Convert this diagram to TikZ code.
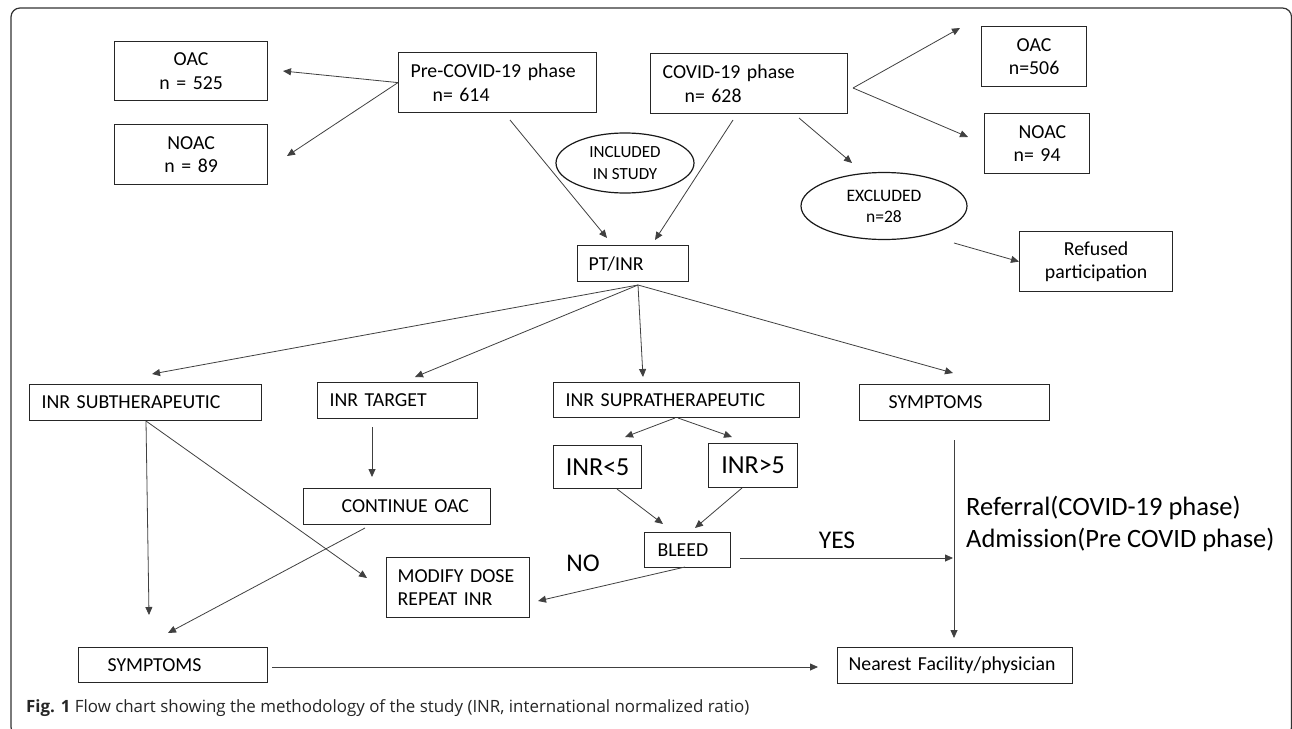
\documentclass[tikz,border=0pt]{standalone}
\usepackage{fontspec}
\setmainfont{Carlito}
\newfontfamily\capfont{Open Sans}
\usetikzlibrary{arrows.meta,shapes.geometric,calc}
\begin{document}
\begin{tikzpicture}[x=1pt,y=-1pt,
  box/.style={draw=black!85, line width=1.2pt, inner xsep=0pt, inner ysep=0pt,
    anchor=north west, align=left, font=\fontsize{19.8}{23.5}\selectfont},
  cbox/.style={box, align=center},
  oval/.style={draw=black!90, line width=1.2pt, ellipse, inner sep=0pt, align=center},
  arr/.style={draw=black!75, line width=0.8pt, -{Triangle[length=8pt,width=7pt]}},
  big/.style={font=\fontsize{25.5}{31}\selectfont, inner sep=0pt}
]
\useasboundingbox (0,0) rectangle (1292,728);
\fill[white] (0,0) rectangle (1292,728);
\draw[line width=1.2pt, black!80, rounded corners=9pt] (11,8) rectangle (1291.5,736);

% boxes
\node[box, text width=198pt, minimum height=60pt] (pre) at (398,52) {\hspace*{12pt}Pre-COVID-19 phase\\\hspace*{34pt}n= 614};
\node[box, text width=197pt, minimum height=60pt] (covid) at (650,53) {\hspace*{12pt}COVID-19 phase\\\hspace*{34pt}n= 628};
\node[cbox, text width=153pt, minimum height=59pt] (oacL) at (114,41) {OAC\\n = 525};
\node[cbox, text width=153pt, minimum height=60pt] (noacL) at (114,124) {NOAC\\n = 89};
\node[cbox, text width=105pt, minimum height=60pt] (oacR) at (981,26) {OAC\\n=506};
\node[box, text width=105pt, minimum height=60pt] (noacR) at (984,113) {\hspace*{34pt}NOAC\\\hspace*{29pt}n= 94};
\node[box, text width=111pt, minimum height=36pt] (ptinr) at (577,245) {\hspace*{11pt}PT/INR};
\node[cbox, text width=153pt, minimum height=60pt] (refused) at (1019,231) {Refused\\participation};
\node[box, text width=232pt, minimum height=36pt] (inrsub) at (29,384) {\hspace*{12pt}INR SUBTHERAPEUTIC};
\node[box, text width=160pt, minimum height=36pt] (inrtgt) at (317,382) {\hspace*{12pt}INR TARGET};
\node[box, text width=246pt, minimum height=35pt] (inrsup) at (553,382) {\hspace*{12pt}INR SUPRATHERAPEUTIC};
\node[box, text width=190pt, minimum height=36pt] (sympR) at (859,384) {\hspace*{29pt}SYMPTOMS};
\node[cbox, text width=88pt, minimum height=43pt, font=\fontsize{26}{30}\selectfont] (inrlt) at (553,445) {INR<5};
\node[cbox, text width=89pt, minimum height=44pt, font=\fontsize{26}{30}\selectfont] (inrgt) at (708,443) {INR>5};
\node[box, text width=187pt, minimum height=36pt] (cont) at (303,488) {\hspace*{38pt}CONTINUE OAC};
\node[box, text width=86pt, minimum height=35pt] (bleed) at (644,532) {\hspace*{13pt}BLEED};
\node[box, text width=143pt, minimum height=60pt] (modify) at (386,557) {\hspace*{11pt}MODIFY DOSE\\\hspace*{11pt}REPEAT INR};
\node[box, text width=189pt, minimum height=35pt] (sympL) at (78,647) {\hspace*{29pt}SYMPTOMS};
\node[box, text width=235pt, minimum height=36pt] (nearest) at (837,647) {\hspace*{11pt}Nearest Facility/physician};

% ellipses
\node[oval, minimum width=138pt, minimum height=60pt, font=\fontsize{17}{22}\selectfont] (incl) at (625,163) {INCLUDED\\IN STUDY};
\node[oval, minimum width=166pt, minimum height=67pt, font=\fontsize{17.5}{21}\selectfont] (excl) at (884,206) {EXCLUDED\\n=28};

% free labels
\node[big] (yes) at (837,540) {YES};
\node[big] (no) at (583,563) {NO};
\node[anchor=west, align=left, inner sep=0pt, font=\fontsize{26.5}{32}\selectfont] (referral) at (966,524) {Referral(COVID-19 phase)\\Admission(Pre COVID phase)};
\node[anchor=west, inner sep=0pt, font=\capfont\fontsize{16.9}{20}\selectfont, text=black!85] (caption) at (26,708) {\textbf{Fig. 1} Flow chart showing the methodology of the study (INR, international normalized ratio)};

% coordinates
\coordinate (c1) at (283,71);
\coordinate (c2) at (287,156);
\coordinate (cs3) at (853,88);
\coordinate (c3) at (960,28);
\coordinate (c4) at (968,137);
\coordinate (cs5) at (510,120);
\coordinate (c5) at (607,238);
\coordinate (cs6) at (733,120);
\coordinate (c6) at (655,240);
\coordinate (cs7) at (799,118);
\coordinate (c7) at (852,163);
\coordinate (cs8) at (954,243);
\coordinate (fan) at (638,285);
\coordinate (c9a) at (152,374);
\coordinate (c9b) at (415,377);
\coordinate (c9c) at (643,377);
\coordinate (c9d) at (953,373);
\coordinate (cs10a) at (675,418);
\coordinate (c10a) at (625,437);
\coordinate (cs10b) at (678,418);
\coordinate (c10b) at (732,437);
\coordinate (cs11a) at (617,489);
\coordinate (c11a) at (663,524);
\coordinate (cs11b) at (742,488);
\coordinate (c11b) at (695,528);
\coordinate (cs12) at (685,567);
\coordinate (c12) at (538,601);
\coordinate (cs13) at (740,558);
\coordinate (c13) at (953,558);
\coordinate (cs14) at (372,427);
\coordinate (c14) at (372,477);
\coordinate (cs15) at (146,421);
\coordinate (c15) at (149,615);
\coordinate (c16) at (367,578);
\coordinate (cs17) at (365,528);
\coordinate (c17) at (168,633);
\coordinate (cs18) at (272,667);
\coordinate (c18) at (818,667);
\coordinate (cs19) at (954,440);
\coordinate (c19) at (954,638);

% connectors
\draw[arr] (pre.west) -- (c1);
\draw[arr] (pre.west) -- (c2);
\draw[arr] (cs3) -- (c3);
\draw[arr] (cs3) -- (c4);
\draw[arr] (cs5) -- (c5);
\draw[arr] (cs6) -- (c6);
\draw[arr] (cs7) -- (c7);
\draw[arr] (cs8) -- (refused.west);
\draw[arr] (fan) -- (c9a);
\draw[arr] (fan) -- (c9b);
\draw[arr] (fan) -- (c9c);
\draw[arr] (fan) -- (c9d);
\draw[arr] (cs10a) -- (c10a);
\draw[arr] (cs10b) -- (c10b);
\draw[arr] (cs11a) -- (c11a);
\draw[arr] (cs11b) -- (c11b);
\draw[arr] (cs12) -- (c12);
\draw[arr] (cs13) -- (c13);
\draw[arr] (cs14) -- (c14);
\draw[arr] (cs15) -- (c15);
\draw[arr] (cs15) -- (c16);
\draw[arr] (cs17) -- (c17);
\draw[arr] (cs18) -- (c18);
\draw[arr] (cs19) -- (c19);
\end{tikzpicture}
\end{document}
